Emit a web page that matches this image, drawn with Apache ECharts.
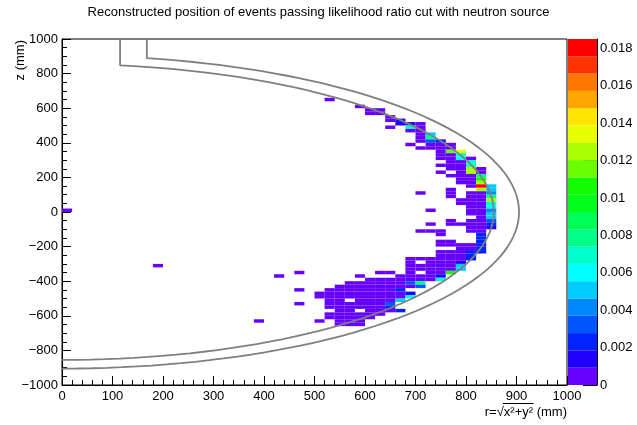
<!DOCTYPE html>
<html><head><meta charset="utf-8">
<script src="https://cdn.jsdelivr.net/npm/echarts@6/dist/echarts.min.js"></script>
<style>html,body{margin:0;padding:0;background:#fff}#c{width:637px;height:425px}</style>
</head><body><div id="c"></div>
<script>
// ---------------- data ----------------
const titleText = 'Reconstructed position of events passing likelihood ratio cut with neutron source';
const binSize = 20;               // mm, both r and z
const rRange = [0, 1000];
const zRange = [-1000, 1000];
const xTickStep = 100;
const yTickStep = 200;
// palette (bottom -> top), 20 contour bands
const paletteColors = ['#6600ff','#2200ff','#0022ff','#0055ff','#0088ff','#00ccff','#00ffff','#00ffcc','#00ff88','#00ff55',
                       '#00ff1a','#11ff00','#6aff00','#aaff00','#e6ff00','#ffe600','#ffa500','#ff7700','#ff3300','#ff0000'];
const paletteMax = 0.0185;
const paletteTicks = [0,0.002,0.004,0.006,0.008,0.01,0.012,0.014,0.016,0.018];
// histogram cells: [z bin index, first r bin index, band levels per r bin ('.' empty, 1-9 then a-k = 10-20)]
const cellRows = [
 [32,26,'1'],[30,29,'1'],[29,30,'11'],[28,30,'11'],[27,32,'1'],[26,32,'12'],[25,33,'221'],
 [24,32,'1.81'],[23,34,'11'],[22,35,'16'],[21,35,'19'],[20,35,'143'],[19,34,'1.111'],
 [18,35,'1111'],[17,37,'1df'],[16,37,'118'],[15,37,'1171'],[14,38,'118'],[13,37,'1118'],
 [12,38,'11e1'],[11,37,'1.1e1'],[10,38,'1119'],[9,39,'11c'],[8,39,'11e'],[7,40,'1k6'],
 [6,38,'1..e6'],[5,35,'1..1.115'],[4,38,'1.119'],[3,39,'111e'],[2,39,'1118'],[1,40,'117'],
 [0,0,'1'],[0,36,'1...115'],[-1,40,'116'],[-2,41,'16'],[-3,38,'1.114'],[-4,36,'1.11113'],
 [-5,40,'112'],[-6,35,'111..11'],[-7,37,'1...3'],[-8,41,'3'],[-9,37,'11..3'],[-10,37,'11113'],
 [-11,39,'113'],[-12,37,'11133'],[-13,37,'1113'],[-14,34,'1111113'],[-15,34,'1.1112'],
 [-16,9,'1'],[-16,34,'111116'],[-17,34,'111116'],[-18,23,'1'],[-18,31,'11.1.11c'],
 [-19,21,'1'],[-19,29,'1...11112'],[-20,30,'11111118'],[-21,28,'11111149'],
 [-22,27,'111111114'],[-23,23,'1..11111113'],[-24,25,'1111111112'],[-25,25,'1111111117'],
 [-26,26,'11.11116'],[-27,23,'1..1111114'],[-28,26,'1111113'],[-29,27,'11.1113'],
 [-30,26,'111111'],[-31,26,'11111'],[-32,19,'1'],[-32,25,'1.111'],[-33,27,'111']
];
// detector vessel outlines (geometry, mm)
const vesselRadii = [855, 905];
const vesselNeckRadii = [115, 168];

// ---------------- build ----------------
const band = paletteMax / paletteColors.length;
function levelOf(ch){ return /[1-9]/.test(ch) ? +ch : ch.charCodeAt(0) - 87; }
const cells = [];
cellRows.forEach(([j, i0, s]) => {
  for (let k = 0; k < s.length; k++) {
    if (s[k] === '.') continue;
    cells.push([(i0 + k) * binSize, j * binSize, (levelOf(s[k]) - 0.5) * band]);
  }
});
function colorFor(v){ return paletteColors[Math.min(paletteColors.length-1, Math.max(0, Math.floor(v / band)))]; }
const paletteData = paletteColors.map((c, k) => [k * band, (k + 1) * band, k]);

function vesselLine(R, neck){
  const pts = [[neck, zRange[1]]];
  const a0 = Math.atan2(Math.sqrt(R*R - neck*neck), neck);
  const n = 90;
  for (let k = 0; k <= n; k++) {
    const a = a0 + (-Math.PI/2 - a0) * k / n;
    pts.push([R * Math.cos(a), R * Math.sin(a)]);
  }
  return pts;
}

const FONT = '"Liberation Sans", Arial, Helvetica, sans-serif';
const labelStyle = {color:'#000', fontSize:13, fontFamily:FONT, formatter: v => String(v).replace('-', '\u2212')};

const chart = echarts.init(document.getElementById('c'));

// x title with overline over x²+y²
const xParts = ['r=\u221A', 'x\u00B2+y\u00B2', ' (mm)'];
const mctx = document.createElement('canvas').getContext('2d');
mctx.font = '13px "Liberation Sans"';
const w = xParts.map(s => mctx.measureText(s).width);
const xEnd = 567, xStart = xEnd - (w[0] + w[1] + w[2]);

chart.setOption({
  animation:false,
  backgroundColor:'#fff',
  title:{text:titleText, left:'center', top:1, textStyle:{fontSize:13, fontWeight:'normal', color:'#000', fontFamily:FONT}},
  grid:[
    {left:62, right:70, top:39, bottom:40, show:true, borderColor:'#000', borderWidth:1, backgroundColor:'transparent'},
    {left:568, right:40, top:39, bottom:40}
  ],
  xAxis:[
    {type:'value', gridIndex:0, min:rRange[0], max:rRange[1], interval:xTickStep,
     axisLine:{show:true, onZero:false, lineStyle:{color:'#000', width:1}},
     axisTick:{show:true, inside:true, length:9, lineStyle:{color:'#000'}},
     minorTick:{show:true, splitNumber:5, length:5, lineStyle:{color:'#000'}},
     splitLine:{show:false},
     axisLabel:Object.assign({margin:5}, labelStyle)},
    {type:'value', gridIndex:1, min:0, max:1, show:false}
  ],
  yAxis:[
    {type:'value', gridIndex:0, min:zRange[0], max:zRange[1], interval:yTickStep,
     axisLine:{show:true, onZero:false, lineStyle:{color:'#000', width:1}},
     axisTick:{show:true, inside:true, length:9, lineStyle:{color:'#000'}},
     minorTick:{show:true, splitNumber:4, length:5, lineStyle:{color:'#000'}},
     splitLine:{show:false},
     axisLabel:Object.assign({margin:4}, labelStyle)},
    {type:'value', gridIndex:1, min:0, max:paletteMax, position:'right',
      axisLine:{show:true, onZero:false, lineStyle:{color:'#000'}},
      axisTick:{show:true, inside:true, length:14, customValues:paletteTicks, lineStyle:{color:'#000'}},
      axisLabel:{customValues:paletteTicks, color:'#000', fontSize:13, fontFamily:FONT, margin:3,
        formatter: v => v === 0 ? '0' : String(+v.toFixed(3))},
      splitLine:{show:false}}
  ],
  series:[
    {type:'custom', xAxisIndex:0, yAxisIndex:0, clip:true, data:cells, z:2,
     renderItem:(params, api) => {
       const r0 = api.value(0), z0 = api.value(1), v = api.value(2);
       const p0 = api.coord([r0, z0 + binSize]);
       const p1 = api.coord([r0 + binSize, z0]);
       return {type:'rect', shape:{x:p0[0], y:p0[1], width:p1[0]-p0[0], height:p1[1]-p0[1]},
               style:{fill:colorFor(v)}};
     }},
    {type:'line', xAxisIndex:0, yAxisIndex:0, data:vesselLine(vesselRadii[0], vesselNeckRadii[0]),
     showSymbol:false, lineStyle:{color:'#7f7f7f', width:1.8}, z:3, clip:true},
    {type:'line', xAxisIndex:0, yAxisIndex:0, data:vesselLine(vesselRadii[1], vesselNeckRadii[1]),
     showSymbol:false, lineStyle:{color:'#7f7f7f', width:1.8}, z:3, clip:true},
    {type:'custom', xAxisIndex:1, yAxisIndex:1, data:paletteData, z:2,
     renderItem:(params, api) => {
       const lo = api.value(0), hi = api.value(1), k = api.value(2);
       const p0 = api.coord([0, hi]);
       const p1 = api.coord([1, lo]);
       return {type:'rect', shape:{x:p0[0], y:p0[1], width:p1[0]-p0[0], height:p1[1]-p0[1]},
               style:{fill:paletteColors[k]}};
     }}
  ],
  graphic:[
    {type:'text', x:20, y:40, rotation:Math.PI/2,
     style:{text:'z (mm)', align:'right', verticalAlign:'middle', fontSize:13, fontFamily:FONT, fill:'#000'}},
    {type:'text', x:xEnd, y:412,
     style:{text:xParts.join(''), align:'right', verticalAlign:'middle', fontSize:13, fontFamily:FONT, fill:'#000'}},
    {type:'line', shape:{x1:xStart + w[0] - 1, y1:403.5, x2:xStart + w[0] + w[1] + 0.5, y2:403.5},
     style:{stroke:'#000', lineWidth:1}}
  ]
});
</script>
</body></html>
